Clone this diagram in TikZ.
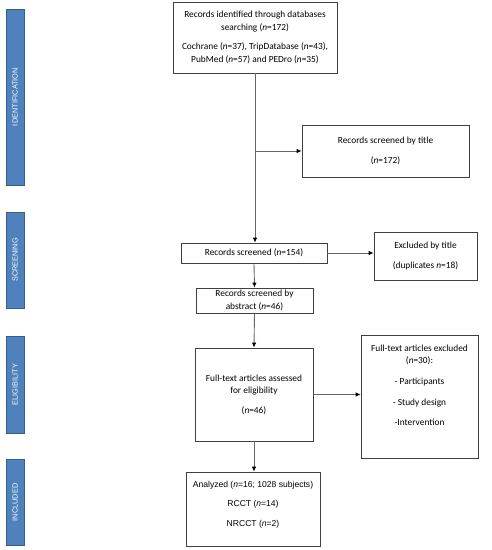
\documentclass[tikz,border=0pt]{standalone}
\usepackage{fontspec}
\setmainfont{Carlito}
\newfontfamily\arialf{Liberation Sans}
\usetikzlibrary{arrows.meta}
\definecolor{barfill}{HTML}{4F81BD}
\definecolor{barline}{HTML}{385D8A}
\begin{document}
\begin{tikzpicture}[x=1bp,y=-1bp,
  box/.style={draw=black!75, line width=0.75pt, fill=white, align=center, inner sep=0pt,
    font=\fontsize{9.4}{12.5}\selectfont},
  bar/.style={draw=barline, line width=0.8pt, fill=barfill, inner sep=0pt, minimum width=18bp,
    font=\arialf\fontsize{7.4}{8}\selectfont, text=white},
  arr/.style={draw=black!60, line width=0.9pt, -{Latex[length=5bp,width=4.5bp,color=black]}}]
\useasboundingbox (0,0) rectangle (492,550);
% phase bars
\node[bar, minimum height=176bp] (b1) at (15,97) {\rotatebox{90}{IDENTIFICATION}};
\node[bar, minimum height=96bp] (b2) at (15,260) {\rotatebox{90}{SCREENING}};
\node[bar, minimum height=97bp] (b3) at (15,384.5) {\rotatebox{90}{ELIGIBILITY}};
\node[bar, minimum height=86bp] (b4) at (15,502.5) {\rotatebox{90}{INCLUDED}};
% boxes
\node[box, minimum width=164bp, minimum height=71bp] (top) at (255,37.5)
  {Records identified through databases\\ searching (\textit{n}=172)\\[7bp]
   Cochrane (\textit{n}=37), TripDatabase (\textit{n}=43),\\ PubMed (\textit{n}=57) and PEDro (\textit{n}=35)};
\node[box, minimum width=167bp, minimum height=52bp] (title) at (385.5,151)
  {Records screened by title\\[7.5bp] (\textit{n}=172)};
\node[box, minimum width=146bp, minimum height=20bp] (scr) at (254,253)
  {Records screened (\textit{n}=154)};
\node[box, minimum width=103bp, minimum height=48bp] (ex1) at (425.5,256)
  {Excluded by title\\[8bp] (duplicates \textit{n}=18)};
\node[box, minimum width=117bp, minimum height=25bp] (abs) at (254.5,300.5)
  {Records screened by\\ abstract (\textit{n}=46)};
\node[box, minimum width=118bp, minimum height=93bp] (ft) at (254,394.5)
  {Full-text articles assessed\\ for eligibility\\[7bp] (\textit{n}=46)};
\node[box, minimum width=117bp, minimum height=123bp] (ex2) at (419.5,396.5)
  {\parbox[c][121bp][t]{115bp}{\centering\vspace{9bp}Full-text articles excluded\\ (\textit{n}=30):\\[8.5bp]
   - Participants\\[8bp] - Study design\\[8bp] -Intervention}};
\node[box, minimum width=134bp, minimum height=74bp, font=\arialf\fontsize{8.6}{11}\selectfont] (ana) at (253,509)
  {\parbox[c][72bp][t]{132bp}{\centering\vspace{8bp}Analyzed (\textit{n}=16; 1028 subjects)\\[8.5bp]
   RCCT (\textit{n}=14)\\[8.5bp] NRCCT (\textit{n}=2)}};
% connectors
\coordinate (br) at (top.south |- title.west);
\draw[arr] (top.south) -- (top.south |- scr.north);
\draw[arr] (br) -- (title.west);
\draw[arr] (scr.east) -- (scr.east -| ex1.west);
\draw[arr] (scr.south) -- (abs.north);
\draw[arr] (abs.south) -- (ft.north);
\draw[arr] (ft.east) -- (ft.east -| ex2.west);
\draw[arr] (ft.south) -- (ft.south |- ana.north);
\end{tikzpicture}
\end{document}
